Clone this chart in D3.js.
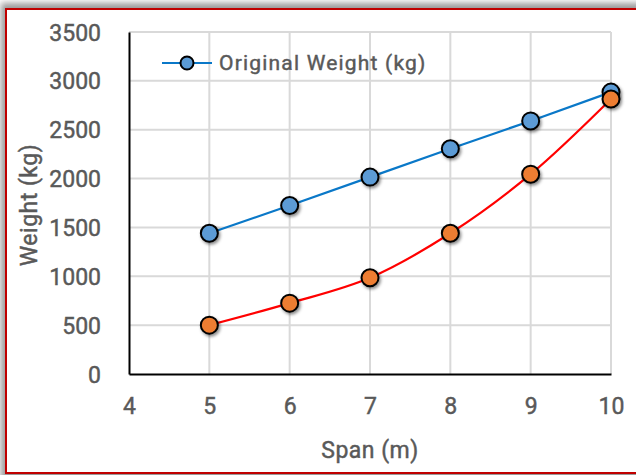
<!DOCTYPE html>
<html>
<head>
<meta charset="utf-8">
<script src="https://cdn.jsdelivr.net/npm/d3@7"></script>
<style>
  html, body { margin: 0; padding: 0; background: #fff; }
  svg { display: block; }
  text { font-family: Roboto, "DejaVu Sans", sans-serif; fill: #595959; stroke: #595959; stroke-width: 0.45px; font-weight: 400; }
</style>
</head>
<body>
<script>
// Span values and the two weight series
const spans = [5, 6, 7, 8, 9, 10];
const originalWeight = [1440, 1725, 2015, 2305, 2590, 2885];
const reducedWeight = [500, 725, 985, 1440, 2045, 2815];
const xTicks = [4, 5, 6, 7, 8, 9, 10];
const yTicks = [0, 500, 1000, 1500, 2000, 2500, 3000, 3500];
const legendLabel = "Original Weight (kg)";

const W = 636, H = 475;
const svg = d3.select("body").append("svg").attr("width", W).attr("height", H);

const defs = svg.append("defs");
const shadow = defs.append("filter").attr("id", "markerShadow")
  .attr("x", "-50%").attr("y", "-50%").attr("width", "200%").attr("height", "200%");
shadow.append("feDropShadow").attr("dx", 1.5).attr("dy", 2).attr("stdDeviation", 1.5)
  .attr("flood-color", "#000").attr("flood-opacity", 0.45);
const frameBlur = defs.append("filter").attr("id", "frameBlur")
  .attr("x", "-5%").attr("y", "-5%").attr("width", "110%").attr("height", "110%");
frameBlur.append("feGaussianBlur").attr("stdDeviation", 3);

// Frame with soft shadow and red outline
svg.append("rect").attr("x", 0).attr("y", 0).attr("width", W).attr("height", H).attr("fill", "#fff");
svg.append("rect").attr("x", 1).attr("y", 3).attr("width", W + 20).attr("height", H + 20)
  .attr("fill", "#9a9a9a").attr("filter", "url(#frameBlur)");
svg.append("rect").attr("x", 6).attr("y", 9).attr("width", W + 10).attr("height", 464)
  .attr("fill", "#fff").attr("stroke", "#c00000").attr("stroke-width", 2);

const plot = { left: 129, right: 611, top: 32, bottom: 374 };
const x = d3.scaleLinear().domain([4, 10]).range([plot.left, plot.right]);
const y = d3.scaleLinear().domain([0, 3500]).range([plot.bottom, plot.top]);

// Gridlines
const grid = svg.append("g");
grid.selectAll("line.v").data(xTicks.slice(1)).join("line")
  .attr("x1", d => x(d)).attr("x2", d => x(d))
  .attr("y1", plot.top).attr("y2", plot.bottom)
  .attr("stroke", "#d9d9d9").attr("stroke-width", 2);
grid.selectAll("line.h").data(yTicks.slice(1)).join("line")
  .attr("x1", plot.left).attr("x2", plot.right)
  .attr("y1", d => y(d)).attr("y2", d => y(d))
  .attr("stroke", "#d9d9d9").attr("stroke-width", 2);

// Axes
const xAxis = svg.append("g").attr("transform", `translate(0,${plot.bottom})`)
  .call(d3.axisBottom(x).tickValues(xTicks).tickSize(0).tickPadding(24).tickFormat(d3.format("d")));
const yAxis = svg.append("g").attr("transform", `translate(${plot.left},0)`)
  .call(d3.axisLeft(y).tickValues(yTicks).tickSize(0).tickPadding(28).tickFormat(d3.format("d")));
[xAxis, yAxis].forEach(g => {
  g.select(".domain").attr("stroke", "#000").attr("stroke-width", 2);
  g.selectAll("text").attr("font-size", 23).attr("fill", "#595959")
    .attr("font-family", "Roboto, sans-serif");
});
yAxis.selectAll("text").attr("dy", "0.35em");

// Axis titles
svg.append("text").attr("x", x(7)).attr("y", 458).attr("text-anchor", "middle")
  .attr("font-size", 23).attr("letter-spacing", 0.5).text("Span (m)");
svg.append("text").attr("transform", `translate(37,${(plot.top + plot.bottom) / 2 + 2}) rotate(-90)`)
  .attr("text-anchor", "middle").attr("font-size", 23).attr("letter-spacing", 0.5).text("Weight (kg)");

// Series lines
const pts = vals => spans.map((s, i) => [s, vals[i]]);
const straight = d3.line().x(d => x(d[0])).y(d => y(d[1]));
const smooth = d3.line().x(d => x(d[0])).y(d => y(d[1])).curve(d3.curveCatmullRom.alpha(0.5));

svg.append("path").attr("d", straight(pts(originalWeight)))
  .attr("fill", "none").attr("stroke", "#0a78c8").attr("stroke-width", 2.2);
svg.append("path").attr("d", smooth(pts(reducedWeight)))
  .attr("fill", "none").attr("stroke", "#ff0000").attr("stroke-width", 2.2);

// Markers
function markers(vals, fill) {
  svg.append("g").selectAll("circle").data(pts(vals)).join("circle")
    .attr("cx", d => x(d[0])).attr("cy", d => y(d[1])).attr("r", 8.5)
    .attr("fill", fill).attr("stroke", "#000").attr("stroke-width", 2)
    .attr("filter", "url(#markerShadow)");
}
markers(originalWeight, "#5b9bd5");
markers(reducedWeight, "#ed7d31");

// Legend
const lg = svg.append("g").attr("transform", "translate(162,63)");
lg.append("line").attr("x1", 0).attr("x2", 50).attr("y1", 0).attr("y2", 0)
  .attr("stroke", "#0a78c8").attr("stroke-width", 2.2);
lg.append("circle").attr("cx", 25).attr("cy", 0).attr("r", 6.5)
  .attr("fill", "#5b9bd5").attr("stroke", "#000").attr("stroke-width", 2);
lg.append("text").attr("x", 57).attr("y", 0).attr("dy", "0.35em")
  .attr("font-size", 21).attr("letter-spacing", 1.2).text(legendLabel);
</script>
</body>
</html>
